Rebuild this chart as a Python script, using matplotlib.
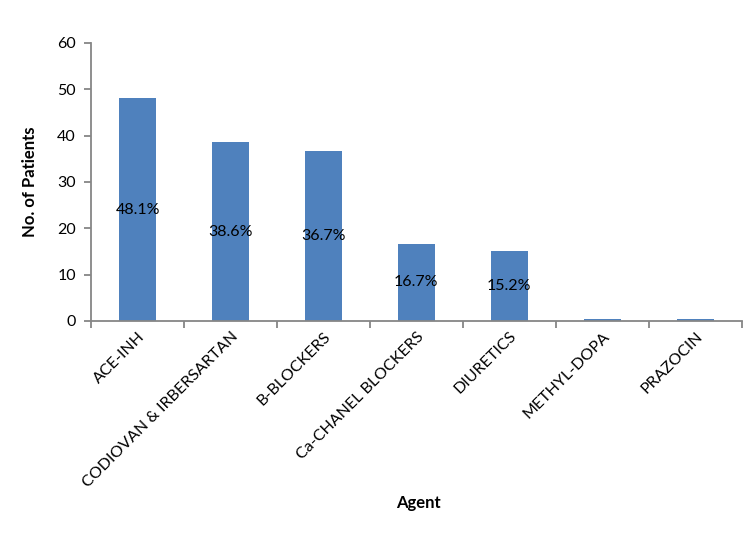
import matplotlib
matplotlib.use("Agg")
import matplotlib.pyplot as plt
import numpy as np

categories = ["ACE-INH", "CODIOVAN & IRBERSARTAN", "B-BLOCKERS", "Ca-CHANEL BLOCKERS",
              "DIURETICS", "METHYL-DOPA", "PRAZOCIN"]
values = [48.1, 38.6, 36.7, 16.7, 15.2, 0.5, 0.5]
labels = ["48.1%", "38.6%", "36.7%", "16.7%", "15.2%", "", ""]
yticks = [0, 10, 20, 30, 40, 50, 60]

plt.rcParams['font.family'] = ['Lato', 'DejaVu Sans']
fig = plt.figure(figsize=(7.53, 5.34), dpi=100)
ax = fig.add_axes([0.121, 0.399, 0.864, 0.5205])

x = np.arange(len(categories))
bars = ax.bar(x, values, width=0.4, color="#4F81BD", zorder=2)
for xi, v, lab in zip(x, values, labels):
    if lab:
        ax.text(xi, v / 2, lab, ha="center", va="center", fontsize=11.5, color="black")

ax.set_xlim(-0.5, len(categories) - 0.5)
ax.set_ylim(0, 60)
ax.set_yticks(yticks)
ax.set_yticklabels([str(t) for t in yticks], fontsize=11.5)
ax.set_xticks(np.arange(len(categories) + 1) - 0.5, minor=False)
ax.set_xticklabels([""] * (len(categories) + 1))
ax.set_xticks(x, minor=True)
ax.set_xticklabels(categories, minor=True, rotation=45, ha="right", rotation_mode="anchor", fontsize=11.5)
ax.tick_params(axis="x", which="minor", length=0, pad=6)
ax.tick_params(axis="x", which="major", length=5, color="#868686", width=1.3)
ax.tick_params(axis="y", length=5, color="#868686", width=1.3, pad=6)

for s in ["top", "right"]:
    ax.spines[s].set_visible(False)
for s in ["left", "bottom"]:
    ax.spines[s].set_color("#868686")
    ax.spines[s].set_linewidth(1.3)

ax.set_ylabel("No. of Patients", fontsize=12, fontweight="bold", labelpad=14)
fig.text(0.555, 0.058, "Agent", ha="center", va="center", fontsize=12, fontweight="bold")

fig.savefig("out.png", dpi=100)
